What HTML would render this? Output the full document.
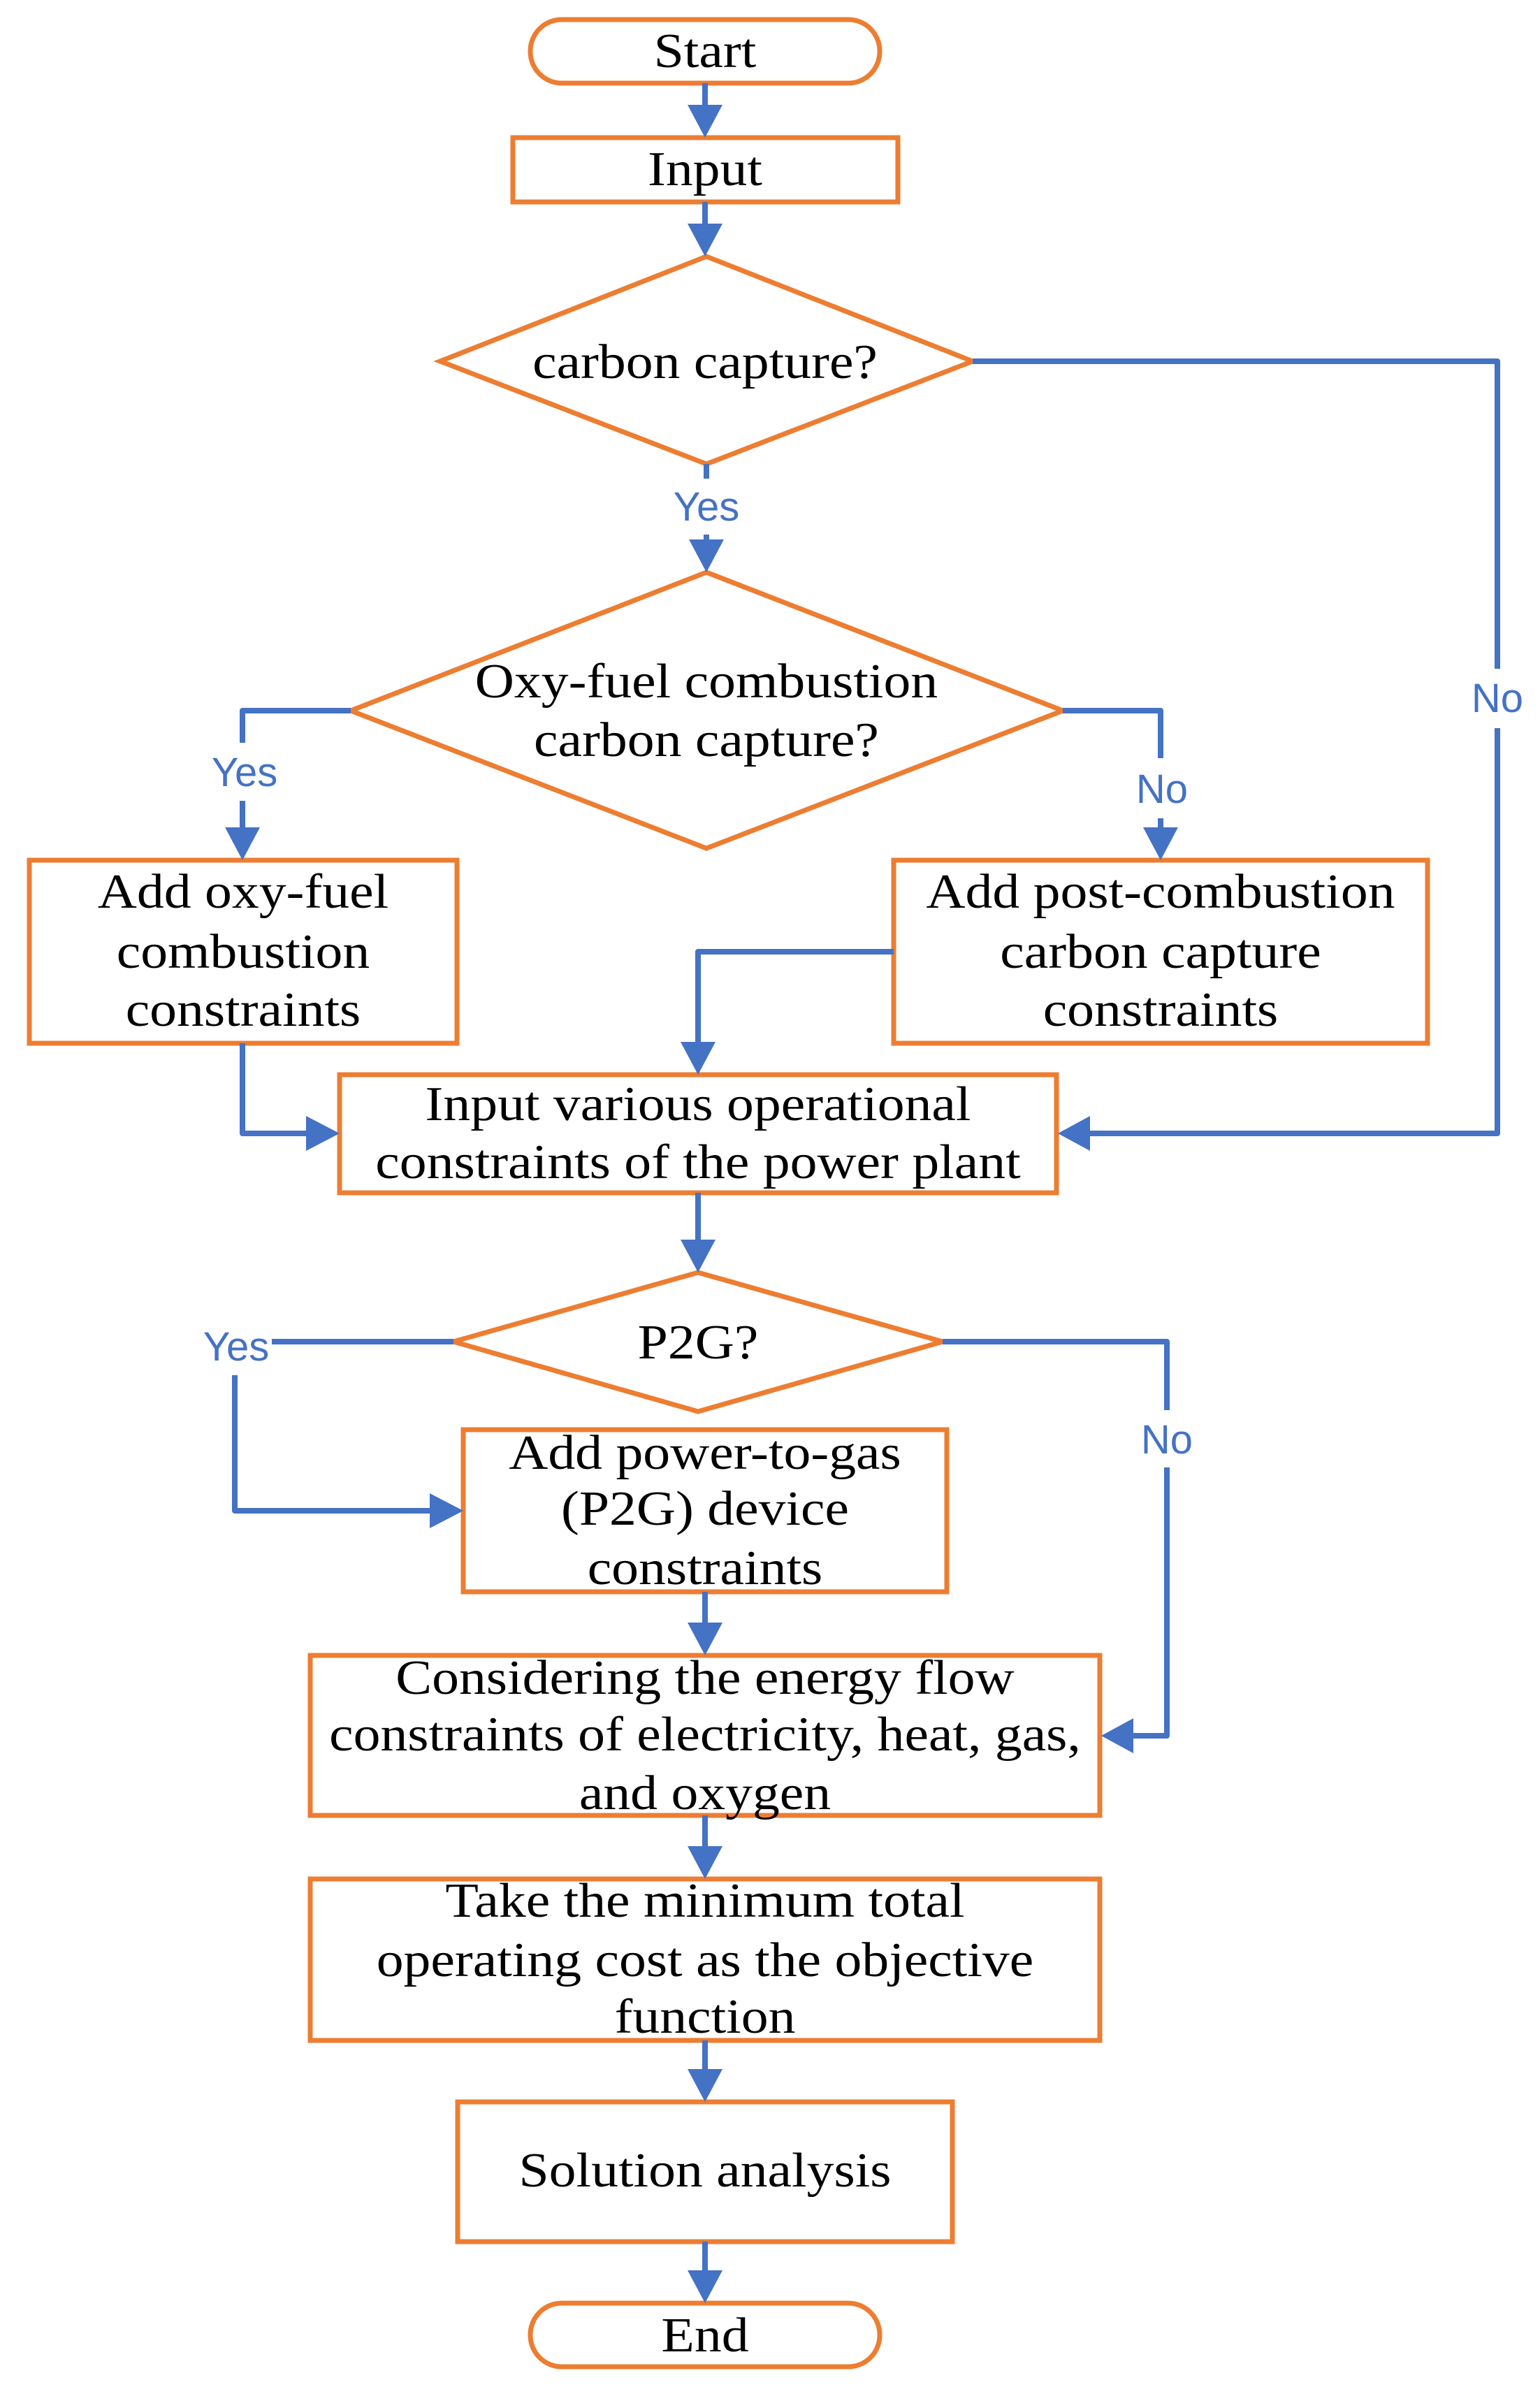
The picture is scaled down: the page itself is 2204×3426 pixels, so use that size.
<!DOCTYPE html>
<html><head><meta charset="utf-8"><style>
html,body{margin:0;padding:0;background:#fff}
svg{display:block}
.b{fill:none;stroke:#ED7D31;stroke-width:7}
.l{fill:none;stroke:#4472C4;stroke-width:8;stroke-linejoin:round}
.a{fill:#4472C4}
.t{font-family:"Liberation Serif",serif;font-size:70px;fill:#000;text-anchor:middle;transform-box:fill-box;transform-origin:center;transform:scaleX(1.11)}
.y{font-family:"Liberation Sans",sans-serif;font-size:58px;fill:#4472C4;text-anchor:middle}
</style></head><body>
<svg width="2204" height="3426" viewBox="0 0 2204 3426" xmlns="http://www.w3.org/2000/svg">
<rect class="b" x="759" y="28" width="500" height="91" rx="45"/>
<rect class="b" x="734" y="197" width="551" height="92"/>
<polygon class="b" points="1011,367 1392,517 1011,664 630,517"/>
<polygon class="b" points="1011,819 1521,1017 1011,1214 502,1017"/>
<rect class="b" x="42" y="1231" width="612" height="262"/>
<rect class="b" x="1279" y="1231" width="764" height="262"/>
<rect class="b" x="486" y="1538" width="1026" height="169"/>
<polygon class="b" points="999,1821 1349,1920 999,2020 649,1920"/>
<rect class="b" x="663" y="2046" width="692" height="232"/>
<rect class="b" x="444" y="2369" width="1130" height="229"/>
<rect class="b" x="444" y="2689" width="1130" height="231"/>
<rect class="b" x="655" y="3008" width="708" height="200"/>
<rect class="b" x="759" y="3296" width="500" height="91" rx="45"/>

<path class="l" d="M1009 119 V150"/><polygon class="a" points="984,150 1034,150 1009,197"/>
<path class="l" d="M1009 289 V320"/><polygon class="a" points="984,320 1034,320 1009,367"/>
<path class="l" d="M1011 664 V685"/><path class="l" d="M1011 765 V772"/><polygon class="a" points="986,772 1036,772 1011,819"/>
<path class="l" d="M1392 517 H2143 V957"/><path class="l" d="M2143 1042 V1622 H1560"/><polygon class="a" points="1560,1597 1560,1647 1514,1622"/>
<path class="l" d="M502 1017 H347 V1063"/><path class="l" d="M347 1146 V1184"/><polygon class="a" points="322,1184 372,1184 347,1231"/>
<path class="l" d="M1521 1017 H1661 V1085"/><path class="l" d="M1661 1171 V1184"/><polygon class="a" points="1636,1184 1686,1184 1661,1231"/>
<path class="l" d="M347 1493 V1622 H438"/><polygon class="a" points="438,1597 438,1647 486,1622"/>
<path class="l" d="M1279 1362 H999 V1491"/><polygon class="a" points="974,1491 1024,1491 999,1538"/>
<path class="l" d="M999 1707 V1774"/><polygon class="a" points="974,1774 1024,1774 999,1821"/>
<path class="l" d="M649 1920 H389"/><path class="l" d="M336 1968 V2162 H615"/><polygon class="a" points="615,2137 615,2187 663,2162"/>
<path class="l" d="M1349 1920 H1670 V2018"/><path class="l" d="M1670 2100 V2484 H1622"/><polygon class="a" points="1622,2459 1622,2509 1576,2484"/>
<path class="l" d="M1009 2278 V2322"/><polygon class="a" points="984,2322 1034,2322 1009,2369"/>
<path class="l" d="M1009 2598 V2642"/><polygon class="a" points="984,2642 1034,2642 1009,2689"/>
<path class="l" d="M1009 2920 V2961"/><polygon class="a" points="984,2961 1034,2961 1009,3008"/>
<path class="l" d="M1009 3208 V3249"/><polygon class="a" points="984,3249 1034,3249 1009,3296"/>

<text class="y" x="1011" y="745">Yes</text>
<text class="y" x="350" y="1125">Yes</text>
<text class="y" x="1663" y="1149">No</text>
<text class="y" x="2143" y="1019">No</text>
<text class="y" x="338" y="1947">Yes</text>
<text class="y" x="1670" y="2080">No</text>

<text class="t" x="1009" y="96">Start</text>
<text class="t" x="1009" y="265">Input</text>
<text class="t" x="1009" y="541">carbon capture?</text>
<text class="t" x="1011" y="998">Oxy-fuel combustion</text>
<text class="t" x="1011" y="1082">carbon capture?</text>
<text class="t" x="348" y="1299">Add oxy-fuel</text>
<text class="t" x="348" y="1385">combustion</text>
<text class="t" x="348" y="1468">constraints</text>
<text class="t" x="1661" y="1299">Add post-combustion</text>
<text class="t" x="1661" y="1385">carbon capture</text>
<text class="t" x="1661" y="1468">constraints</text>
<text class="t" x="999" y="1603">Input various operational</text>
<text class="t" x="999" y="1686">constraints of the power plant</text>
<text class="t" x="999" y="1944">P2G?</text>
<text class="t" x="1009" y="2102">Add power-to-gas</text>
<text class="t" x="1009" y="2182">(P2G) device</text>
<text class="t" x="1009" y="2267">constraints</text>
<text class="t" x="1009" y="2424">Considering the energy flow</text>
<text class="t" x="1009" y="2505">constraints of electricity, heat, gas,</text>
<text class="t" x="1009" y="2589">and oxygen</text>
<text class="t" x="1009" y="2743">Take the minimum total</text>
<text class="t" x="1009" y="2828">operating cost as the objective</text>
<text class="t" x="1009" y="2909">function</text>
<text class="t" x="1009" y="3129">Solution analysis</text>
<text class="t" x="1009" y="3365">End</text>
</svg>
</body></html>
